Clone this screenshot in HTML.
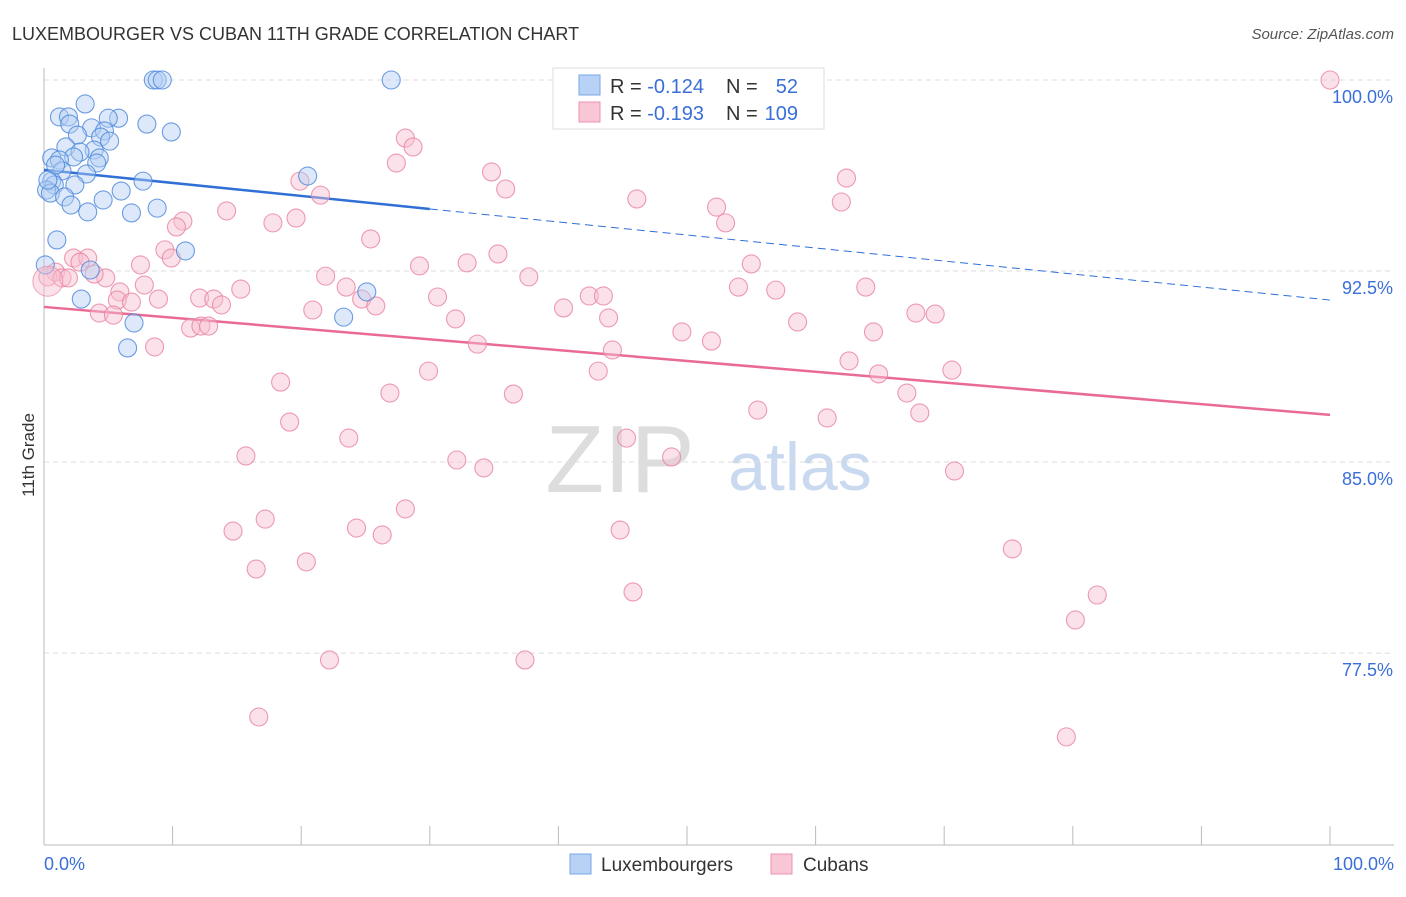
<!DOCTYPE html>
<html><head><meta charset="utf-8"><style>
body{margin:0;background:#fff;font-family:"Liberation Sans",sans-serif;}
svg text{font-family:"Liberation Sans",sans-serif;}
</style></head><body>
<svg id="chart" width="1406" height="892">
<text x="12" y="40" font-size="18" fill="#333">LUXEMBOURGER VS CUBAN 11TH GRADE CORRELATION CHART</text>
<text x="1394" y="39" font-size="15" fill="#555" text-anchor="end" font-style="italic">Source: ZipAtlas.com</text>
<text x="620" y="492" font-size="96" fill="#ddd" font-family="Liberation Serif" text-anchor="middle">ZIP</text>
<text x="800" y="490" font-size="68" fill="#c9d9f0" text-anchor="middle">atlas</text>
<g id="grid"></g><g id="axes"></g><g id="trend"></g><g id="points"></g>
<text x="34" y="455" font-size="17" fill="#333" transform="rotate(-90 34 455)" text-anchor="middle">11th Grade</text>
<g>
<rect x="553" y="68" width="271" height="61" fill="#fff" stroke="#ddd"/>
<rect x="579" y="75" width="21" height="20" fill="#b8d2f5" stroke="#7aa6e6"/>
<rect x="579" y="102" width="21" height="20" fill="#f9c6d6" stroke="#ec93b0"/>
<text x="610" y="93" font-size="20" fill="#333">R = <tspan fill="#3a6fd8">-0.124</tspan></text>
<text x="726" y="93" font-size="20" fill="#333">N = </text><text x="798" y="93" font-size="20" fill="#3a6fd8" text-anchor="end">52</text>
<text x="610" y="120" font-size="20" fill="#333">R = <tspan fill="#3a6fd8">-0.193</tspan></text>
<text x="726" y="120" font-size="20" fill="#333">N = </text><text x="798" y="120" font-size="20" fill="#3a6fd8" text-anchor="end">109</text>
</g>
<g>
<rect x="570" y="854" width="21" height="20" fill="#b8d2f5" stroke="#7aa6e6"/>
<text x="601" y="871" font-size="19" fill="#333">Luxembourgers</text>
<rect x="771" y="854" width="21" height="20" fill="#f9c6d6" stroke="#ec93b0"/>
<text x="803" y="871" font-size="19" fill="#333">Cubans</text>
</g>
</svg>
<script>
const blueX=[8.5,8.8,9.2,27.0,3.2,1.2,1.9,5.8,5.0,2.0,3.7,8.0,9.9,4.7,2.6,4.4,5.1,1.7,3.9,2.8,0.6,2.3,4.3,1.2,4.1,1.4,3.3,20.5,7.7,0.6,0.8,0.2,2.4,6.0,0.5,1.6,4.6,2.1,8.8,3.4,6.8,11.0,1.0,3.6,25.1,2.9,23.3,7.0,6.5,0.1,0.3,0.9];
const blueY=[100,100,100,100,99.06,98.55,98.55,98.5,98.5,98.27,98.12,98.27,97.96,98.0,97.84,97.76,97.6,97.37,97.25,97.17,96.94,96.98,96.94,96.86,96.74,96.43,96.31,96.23,96.03,96.03,95.88,95.68,95.88,95.64,95.56,95.41,95.29,95.09,94.97,94.82,94.78,93.29,93.72,92.54,91.68,91.4,90.69,90.46,89.48,92.74,96.07,96.66];
const pinkX=[100,28.1,28.7,27.4,34.8,35.9,19.9,21.5,62.4,62.0,46.1,52.3,53.0,14.2,10.8,10.3,17.8,19.6,25.4,9.4,9.9,2.3,3.4,2.8,7.5,35.3,29.2,32.9,55.0,37.7,21.9,4.8,3.9,0.9,0.3,1.4,1.9,15.3,7.8,5.9,23.5,5.7,6.8,8.9,12.1,13.2,13.8,30.6,42.4,43.5,54.0,56.9,63.9,24.7,25.8,20.9,4.3,5.4,32.0,40.4,43.9,67.8,69.3,58.6,11.4,12.2,12.8,49.6,64.5,51.9,33.7,8.6,44.2,62.6,18.4,26.9,29.9,43.1,64.9,70.6,36.5,67.1,55.5,60.9,68.1,19.1,23.7,45.3,15.7,32.1,34.2,48.8,70.8,28.1,17.2,14.7,24.3,26.3,44.8,75.3,20.4,16.5,45.8,81.9,80.2,22.2,37.4,16.7,79.5];
const pinkY=[100,97.72,97.37,96.74,96.39,95.72,96.03,95.48,96.15,95.21,95.33,95.01,94.39,94.86,94.46,94.23,94.39,94.58,93.76,93.33,93.01,93.01,93.01,92.85,92.74,93.17,92.7,92.82,92.78,92.27,92.3,92.23,92.38,92.46,92.27,92.23,92.23,91.79,91.95,91.68,91.87,91.36,91.28,91.4,91.44,91.4,91.17,91.48,91.52,91.52,91.87,91.75,91.87,91.4,91.13,90.97,90.85,90.77,90.62,91.05,90.66,90.85,90.81,90.5,90.26,90.34,90.34,90.11,90.11,89.75,89.63,89.52,89.4,88.97,88.14,87.71,88.57,88.57,88.46,88.61,87.67,87.71,87.04,86.73,86.93,86.57,85.94,85.94,85.24,85.08,84.77,85.2,84.65,83.16,82.76,82.29,82.41,82.14,82.33,81.59,81.08,80.8,79.9,79.78,78.8,77.23,77.23,74.99,74.21];
const blueTrend=[96.47,91.36];
const pinkTrend=[91.09,86.85];
const yTicks=[100,92.5,85,77.5];
const xTicks=[0,10,20,30,40,50,60,70,80,90,100];
const NS='http://www.w3.org/2000/svg';
const sx=v=>44+v*12.86, sy=v=>80+(100-v)*25.47;
function mk(tag,attrs,parent){const e=document.createElementNS(NS,tag);for(const k in attrs)e.setAttribute(k,attrs[k]);document.getElementById(parent).appendChild(e);return e;}
yTicks.forEach(t=>{
 const l=mk('line',{x1:44,x2:1394,y1:sy(t),y2:sy(t),stroke:'#ddd','stroke-dasharray':'5,4'},'grid');
 
 
 const tx=mk('text',{x:1393,y:sy(t)+23,'font-size':18,fill:'#3a6fd8','text-anchor':'end'},'grid');
 tx.textContent=t.toFixed(1)+'%';
 
 
});
const ax=mk('line',{x1:44,x2:44,y1:68,y2:845,stroke:'#bbb'},'axes');


const bx=mk('line',{x1:44,x2:1394,y1:845,y2:845,stroke:'#bbb'},'axes');


xTicks.forEach(t=>{const l=mk('line',{x1:sx(t),x2:sx(t),y1:826,y2:845,stroke:'#bbb'},'axes');
 
 });
[[0,'start',44],[100,'end',1394]].forEach(([v,a,x])=>{const t=mk('text',{x:x,y:870,'font-size':18,fill:'#3a6fd8','text-anchor':a},'axes');t.textContent=v.toFixed(1)+'%';
 
 });
function pts(X,Y,fill,stroke,name){X.forEach((x,i)=>{const c=mk('circle',{cx:sx(x),cy:sy(Y[i]),r:9,fill:fill,'fill-opacity':0.45,stroke:stroke,'stroke-opacity':0.8,'stroke-width':1.1},'points');
 
 });}
pts(pinkX,pinkY,'#f7bfd0','#e9829f','cuban-point');
pts(blueX,blueY,'#b3cff3','#4a86d9','luxembourger-point');
const big=mk('circle',{cx:sx(0.3),cy:sy(92.1),r:15,fill:'#f7bfd0','fill-opacity':0.45,stroke:'#e9829f','stroke-opacity':0.7},'points');


const bAt=x=>blueTrend[0]+(blueTrend[1]-blueTrend[0])*x/100;
let l1=mk('line',{x1:sx(0),y1:sy(bAt(0)),x2:sx(30),y2:sy(bAt(30)),stroke:'#2f6fd6','stroke-width':2.5},'trend');


let l2=mk('line',{x1:sx(30),y1:sy(bAt(30)),x2:sx(100),y2:sy(bAt(100)),stroke:'#2f6fd6','stroke-width':1,'stroke-dasharray':'8,5'},'trend');


let l3=mk('line',{x1:sx(0),y1:sy(pinkTrend[0]),x2:sx(100),y2:sy(pinkTrend[1]),stroke:'#e96b95','stroke-width':2.5},'trend');


</script>
</body></html>
